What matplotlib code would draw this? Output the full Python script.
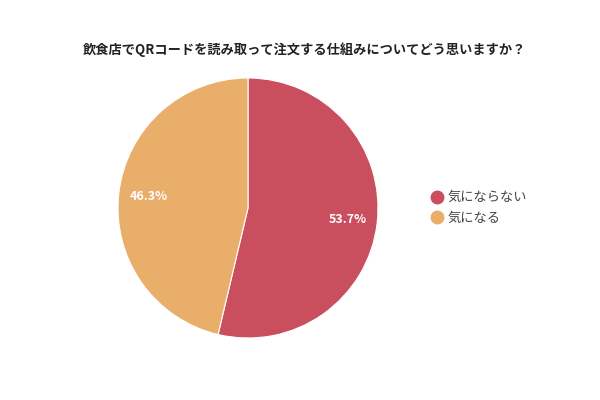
import matplotlib
matplotlib.use('Agg')
import matplotlib.pyplot as plt
from matplotlib.lines import Line2D

plt.rcParams['font.family'] = ['Noto Sans CJK JP', 'DejaVu Sans']

title = '飲食店でQRコードを読み取って注文する仕組みについてどう思いますか？'
labels = ['気にならない', '気になる']
values = [53.7, 46.3]
colors = ['#C94E5E', '#E8AE6A']

fig = plt.figure(figsize=(6, 4), dpi=100)
ax = fig.add_axes([248/600 - 130/600, 1 - 338/400, 260/600, 260/400])

wedges, texts, autotexts = ax.pie(
    values, colors=colors, startangle=90, counterclock=False,
    autopct='%.1f%%', pctdistance=0.77,
    wedgeprops=dict(edgecolor='white', linewidth=0.8),
    textprops=dict(color='white', fontsize=9, fontweight='bold'))
ax.set_xlim(-1, 1)
ax.set_ylim(-1, 1)
ax.set_aspect('equal')

fig.text(0.508, 1 - 50/400, title, ha='center', va='center',
         fontsize=9.5, fontweight='bold', color='#222222')

handles = [Line2D([], [], marker='o', linestyle='', markersize=9,
                  markerfacecolor=c, markeredgecolor=c) for c in colors]
fig.legend(handles, labels, loc='center left', bbox_to_anchor=(0.695, 1 - 208/400),
           frameon=False, fontsize=9.5, labelcolor='#444444',
           handletextpad=0.2, labelspacing=0.55, handlelength=1.2)

fig.savefig('out.png', dpi=100)
